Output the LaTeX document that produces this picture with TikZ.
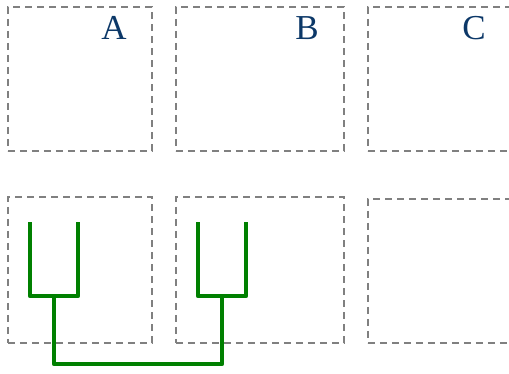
\documentclass[tikz,border=0pt]{standalone}
\usepackage{fontspec}
\setmainfont{Liberation Serif}
\definecolor{panelgray}{RGB}{128,128,128}
\definecolor{labelblue}{RGB}{12,56,104}
\definecolor{treegreen}{RGB}{0,128,0}
\begin{document}
\begin{tikzpicture}[x=1pt,y=-1pt,
  panel/.style={draw=panelgray, line width=1.8pt, dash pattern=on 7pt off 5pt,
    rectangle, inner sep=0pt, anchor=north west},
  panellabel/.style={text=labelblue, font=\fontsize{35}{35}\selectfont, inner sep=0pt},
  branch/.style={draw=treegreen, line width=4.6pt, line join=round}]
\useasboundingbox (0,0) rectangle (509,373);
\clip (0,0) rectangle (509,373);
% top row of panels
\node[panel, minimum width=144pt, minimum height=144pt] (pa) at (7,6) {};
\node[panel, minimum width=168pt, minimum height=144pt] (pb) at (175,6) {};
\node[panel, minimum width=168pt, minimum height=144pt] (pc) at (367,6) {};
% bottom row of panels
\node[panel, minimum width=144pt, minimum height=146pt] (qa) at (7,196) {};
\node[panel, minimum width=168pt, minimum height=146pt] (qb) at (175,196) {};
\node[panel, minimum width=168pt, minimum height=144pt] (qc) at (367,198) {};
% panel letters
\node[panellabel] (la) at (114,28) {A};
\node[panellabel] (lb) at (307,28) {B};
\node[panellabel] (lc) at (474,28) {C};
% tree leaves, joints and root
\coordinate (l1) at (30,222);
\coordinate (l2) at (78,222);
\coordinate (l3) at (198,222);
\coordinate (l4) at (246,222);
\coordinate (j1) at (54,296);
\coordinate (j2) at (222,296);
\coordinate (rt) at (138,364);
\draw[branch] (l1) |- (j1) -| (l2);
\draw[branch] (l3) |- (j2) -| (l4);
\draw[branch] (j1) |- (rt) -| (j2);
\end{tikzpicture}
\end{document}
